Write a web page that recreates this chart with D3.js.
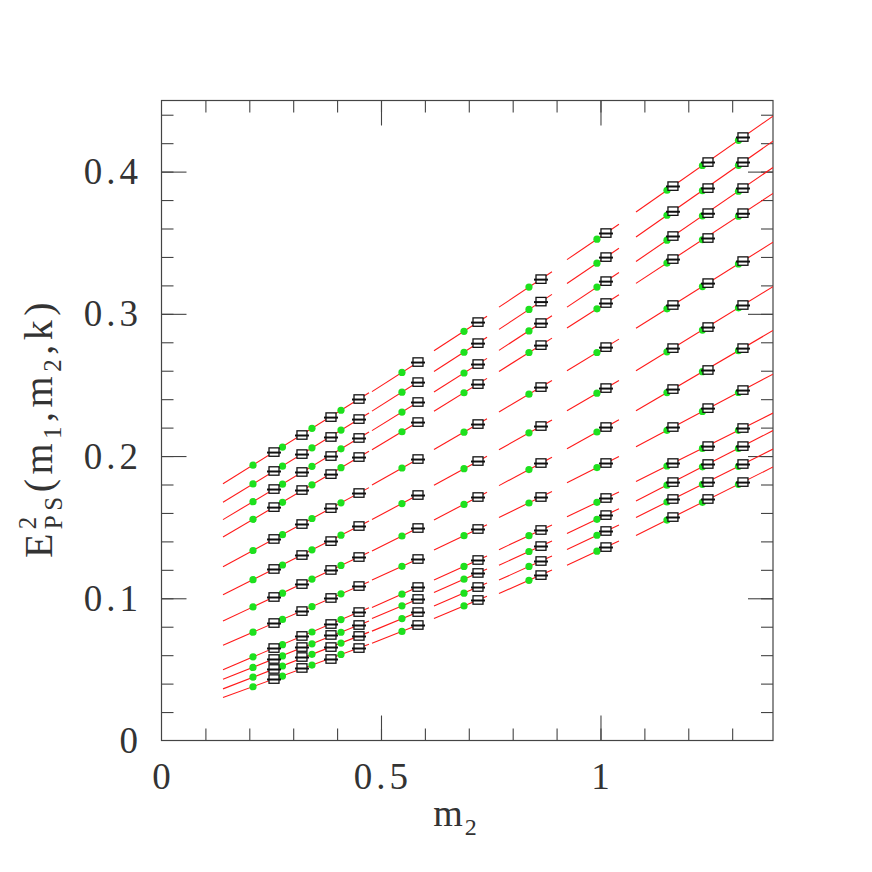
<!DOCTYPE html>
<html><head><meta charset="utf-8">
<script src="https://cdn.jsdelivr.net/npm/d3@7"></script>
<style>body{margin:0;background:#fff}</style>
</head><body>
<svg id="c" width="872" height="872"></svg>
<script>
// ---- axis ticks ----
const xTickValues = [0, 0.5, 1];
const xTickLabels = ["0", "0.5", "1"];
const yTickValues = [0, 0.1, 0.2, 0.3, 0.4];
const yTickLabels = ["0", "0.1", "0.2", "0.3", "0.4"];

// ---- m2 positions per group (6 clusters) ----
const lineM2 = [[0.1401, 0.4727], [0.4795, 0.5957], [0.6207, 0.7415], [0.7688, 0.8895], [0.9237, 1.0421], [1.0809, 1.393]];
const greenM2 = [[0.2084, 0.2756, 0.3428, 0.4089], [0.5478], [0.6891], [0.8371], [0.9920], [1.1515, 1.2323, 1.3144]];
const squareM2 = [[0.2563, 0.3200, 0.3861, 0.4499], [0.5843], [0.7210], [0.8645], [1.0125], [1.1651, 1.2449, 1.3246]];

// ---- fit lines: E^2 at start / end of each group's m2 range (12 rows per group) ----
const lineStartE = [
  [0.1805,0.1675,0.1553,0.1431,0.1222,0.1024,0.0840,0.0670,0.0498,0.0430,0.0363,0.0302],
  [0.2453,0.2316,0.2179,0.2044,0.1797,0.1554,0.1332,0.1128,0.0936,0.0858,0.0769,0.0683],
  [0.2740,0.2594,0.2450,0.2315,0.2046,0.1795,0.1551,0.1340,0.1128,0.1041,0.0945,0.0858],
  [0.3047,0.2891,0.2743,0.2595,0.2310,0.2044,0.1792,0.1568,0.1342,0.1232,0.1128,0.1033],
  [0.3381,0.3213,0.3047,0.2900,0.2600,0.2318,0.2051,0.1812,0.1573,0.1455,0.1343,0.1233],
  [0.3716,0.3540,0.3368,0.3214,0.2898,0.2600,0.2318,0.2066,0.1821,0.1684,0.1568,0.1441]
];
const lineEndE = [
  [0.2445,0.2303,0.2169,0.2034,0.1778,0.1544,0.1323,0.1116,0.0934,0.0840,0.0762,0.0676],
  [0.2683,0.2543,0.2401,0.2260,0.1999,0.1745,0.1511,0.1292,0.1095,0.1009,0.0918,0.0826],
  [0.2983,0.2835,0.2687,0.2546,0.2262,0.1999,0.1745,0.1517,0.1298,0.1206,0.1107,0.1014],
  [0.3296,0.3137,0.2986,0.2829,0.2531,0.2254,0.1992,0.1750,0.1516,0.1402,0.1297,0.1198],
  [0.3630,0.3461,0.3291,0.3134,0.2822,0.2531,0.2255,0.1997,0.1748,0.1629,0.1516,0.1402],
  [0.4390,0.4214,0.4029,0.3847,0.3504,0.3191,0.2883,0.2576,0.2302,0.2179,0.2049,0.1923]
];

// ---- green points (per group, per column, 12 rows) ----
const greenE = [
  [
    [0.1936,0.1804,0.1679,0.1555,0.1336,0.1131,0.0939,0.0762,0.0588,0.0514,0.0446,0.0378],
    [0.2063,0.1929,0.1802,0.1675,0.1447,0.1234,0.1036,0.0851,0.0674,0.0595,0.0524,0.0453],
    [0.2195,0.2058,0.1928,0.1798,0.1561,0.1341,0.1135,0.0942,0.0763,0.0680,0.0606,0.0530],
    [0.2322,0.2183,0.2051,0.1918,0.1671,0.1444,0.1231,0.1031,0.0850,0.0761,0.0685,0.0605]
  ],
  [[0.2588,0.2449,0.2309,0.2171,0.1916,0.1666,0.1438,0.1225,0.1029,0.0947,0.0857,0.0767]],
  [[0.2877,0.2730,0.2584,0.2445,0.2168,0.1911,0.1660,0.1440,0.1224,0.1134,0.1036,0.0946]],
  [[0.3188,0.3031,0.2880,0.2728,0.2435,0.2163,0.1905,0.1670,0.1440,0.1329,0.1224,0.1126]],
  [[0.3525,0.3356,0.3188,0.3035,0.2728,0.2442,0.2169,0.1919,0.1675,0.1555,0.1443,0.1331]],
  [
    [0.3869,0.3693,0.3518,0.3357,0.3035,0.2733,0.2446,0.2181,0.1930,0.1795,0.1677,0.1550],
    [0.4043,0.3867,0.3689,0.3521,0.3192,0.2886,0.2593,0.2314,0.2054,0.1924,0.1801,0.1675],
    [0.4220,0.4044,0.3862,0.3687,0.3351,0.3042,0.2741,0.2447,0.2181,0.2054,0.1928,0.1801]
  ]
];

// ---- square data points (per group, per column, 12 rows) ----
const squareE = [
  [
    [0.2028,0.1895,0.1768,0.1641,0.1417,0.1206,0.1009,0.0826,0.0650,0.0573,0.0503,0.0432],
    [0.2148,0.2014,0.1888,0.1761,0.1522,0.1304,0.1100,0.0910,0.0735,0.0657,0.0587,0.0510],
    [0.2274,0.2134,0.2000,0.1873,0.1634,0.1402,0.1199,0.1002,0.0819,0.0742,0.0657,0.0573],
    [0.2401,0.2260,0.2127,0.1993,0.1740,0.1508,0.1290,0.1086,0.0903,0.0812,0.0735,0.0650]
  ],
  [[0.2661,0.2520,0.2380,0.2239,0.1979,0.1726,0.1494,0.1276,0.1079,0.0995,0.0903,0.0812]],
  [[0.2942,0.2794,0.2647,0.2506,0.2225,0.1965,0.1712,0.1487,0.1269,0.1178,0.1079,0.0988]],
  [[0.3244,0.3086,0.2935,0.2780,0.2485,0.2211,0.1951,0.1712,0.1480,0.1367,0.1262,0.1163]],
  [[0.3568,0.3399,0.3230,0.3076,0.2766,0.2478,0.2204,0.1951,0.1705,0.1585,0.1473,0.1360]],
  [
    [0.3898,0.3722,0.3547,0.3385,0.3062,0.2759,0.2471,0.2204,0.1951,0.1817,0.1698,0.1571],
    [0.4067,0.3884,0.3708,0.3533,0.3216,0.2907,0.2605,0.2337,0.2070,0.1944,0.1817,0.1698],
    [0.4243,0.4067,0.3884,0.3708,0.3371,0.3062,0.2759,0.2464,0.2197,0.2070,0.1944,0.1817]
  ]
];

const svg = d3.select("#c");
const L = 161.5, R = 773, T = 100.5, B = 740.5;
const x = d3.scaleLinear().domain([0, 1.393]).range([L, R]);
const y = d3.scaleLinear().domain([0, 0.45]).range([B, T]);

svg.append("defs").append("clipPath").attr("id", "clip")
  .append("rect").attr("x", L).attr("y", T).attr("width", R - L).attr("height", B - T);

// ticks (inside, all four sides)
const xMinor = d3.range(1, 14).map(i => i / 10);
const xMajor = [0.5, 1.0];
const yMinor = d3.range(1, 23).map(i => +(i * 0.02).toFixed(2));
const yMajor = [0.1, 0.2, 0.3, 0.4];
function tickG(axis, tr) {
  svg.append("g").attr("transform", tr).call(axis.tickFormat(""))
    .call(g => g.select(".domain").remove())
    .selectAll("line").attr("stroke", "#444").attr("stroke-width", 1.1);
}
tickG(d3.axisBottom(x).tickValues(xMinor).tickSize(-12), `translate(0,${B})`);
tickG(d3.axisBottom(x).tickValues(xMajor).tickSize(-25), `translate(0,${B})`);
tickG(d3.axisTop(x).tickValues(xMinor).tickSize(-12), `translate(0,${T})`);
tickG(d3.axisTop(x).tickValues(xMajor).tickSize(-25), `translate(0,${T})`);
tickG(d3.axisLeft(y).tickValues(yMinor).tickSize(-12), `translate(${L},0)`);
tickG(d3.axisLeft(y).tickValues(yMajor).tickSize(-25), `translate(${L},0)`);
tickG(d3.axisRight(y).tickValues(yMinor).tickSize(-12), `translate(${R},0)`);
tickG(d3.axisRight(y).tickValues(yMajor).tickSize(-25), `translate(${R},0)`);

svg.append("rect").attr("x", L).attr("y", T).attr("width", R - L).attr("height", B - T)
  .attr("fill", "none").attr("stroke", "#444").attr("stroke-width", 1.2);

const font = "'Liberation Serif', serif";
// tick labels
svg.append("g").selectAll("text").data(xTickValues).join("text")
  .attr("x", d => x(d) + 2).attr("y", 789).attr("text-anchor", "middle")
  .attr("font-family", font).attr("font-size", 37).attr("letter-spacing", 4).attr("fill", "#333")
  .text((d, i) => xTickLabels[i]);
svg.append("g").selectAll("text").data(yTickValues).join("text")
  .attr("x", 142).attr("y", d => y(d) + 12.5).attr("text-anchor", "end")
  .attr("font-family", font).attr("font-size", 37).attr("letter-spacing", 4).attr("fill", "#333")
  .text((d, i) => yTickLabels[i]);

// lines
const plot = svg.append("g").attr("clip-path", "url(#clip)");
lineM2.forEach((rng, g) => {
  lineStartE[g].forEach((e0, r) => {
    plot.append("line")
      .attr("x1", x(rng[0])).attr("y1", y(e0))
      .attr("x2", x(rng[1])).attr("y2", y(lineEndE[g][r]))
      .attr("stroke", "#ff1a1a").attr("stroke-width", 1.1);
  });
});
// green points
greenM2.forEach((cols, g) => cols.forEach((m, c) => {
  greenE[g][c].forEach(e => {
    plot.append("circle").attr("cx", x(m)).attr("cy", y(e)).attr("r", 3.6).attr("fill", "#1ee01e");
  });
}));
// squares
squareM2.forEach((cols, g) => cols.forEach((m, c) => {
  squareE[g][c].forEach(e => {
    const cx = x(m), cy = y(e);
    plot.append("rect").attr("x", cx - 5).attr("y", cy - 4.2).attr("width", 10).attr("height", 8.4)
      .attr("fill", "#fff").attr("stroke", "#111").attr("stroke-width", 1.3);
    plot.append("line").attr("x1", cx - 7).attr("x2", cx + 7).attr("y1", cy + 0.5).attr("y2", cy + 0.5)
      .attr("stroke", "#111").attr("stroke-width", 2);
  });
}));

// axis titles
svg.append("text").attr("x", 456).attr("y", 826).attr("text-anchor", "middle")
  .attr("font-family", font).attr("font-size", 38).attr("letter-spacing", 2).attr("fill", "#333")
  .call(t => { t.append("tspan").text("m"); t.append("tspan").attr("dy", 9).attr("font-size", 24).text("2"); });

const yl = svg.append("text").attr("transform", "translate(52,428) rotate(-90)")
  .attr("text-anchor", "middle").attr("font-family", font).attr("font-size", 40)
  .attr("letter-spacing", 4.5).attr("fill", "#333");
yl.append("tspan").text("E");
yl.append("tspan").attr("dy", -16).attr("font-size", 25).text("2");
yl.append("tspan").attr("dx", -17).attr("dy", 26).attr("font-size", 25).text("PS");
yl.append("tspan").attr("dy", -10).text("(m");
yl.append("tspan").attr("dy", 9).attr("font-size", 25).text("1");
yl.append("tspan").attr("dy", -9).text(",m");
yl.append("tspan").attr("dy", 9).attr("font-size", 25).text("2");
yl.append("tspan").attr("dy", -9).text(",k)");
</script>
</body></html>
